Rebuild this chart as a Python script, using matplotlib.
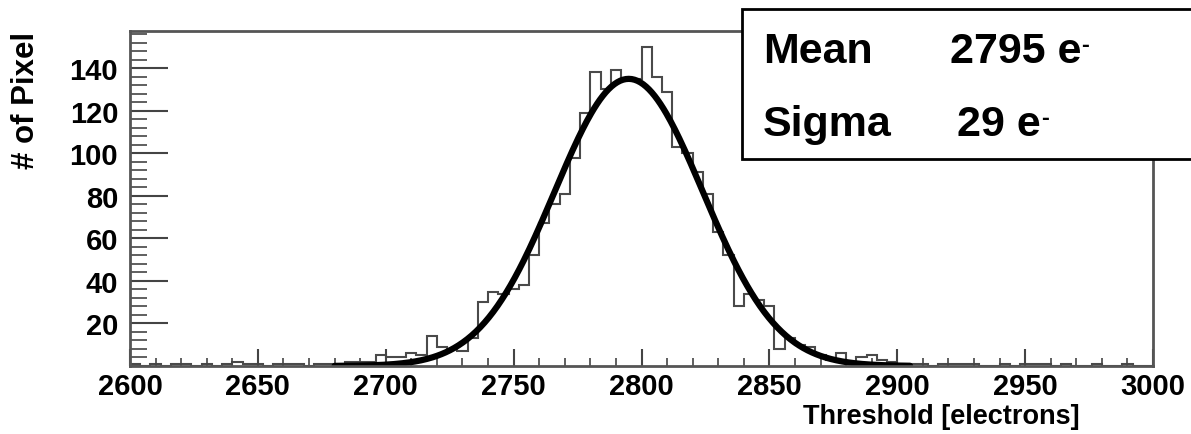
import numpy as np
import matplotlib
matplotlib.use('Agg')
import matplotlib.pyplot as plt
from matplotlib.patches import Rectangle
from matplotlib.ticker import MultipleLocator

# threshold histogram, 4 electron bins from 2600 to 3000
bin_edges = list(range(2600, 3001, 4))
pixel_counts = [
    1, 0, 1, 0, 1, 1, 0, 1, 0, 1,        # 2600 - 2636
    2, 1, 1, 0, 1, 1, 1, 0, 1, 1,        # 2640 - 2676
    1, 2, 2, 2, 5, 4, 4, 6, 5, 14,       # 2680 - 2716
    9, 8, 7, 13, 30, 35, 34, 36, 38, 52,  # 2720 - 2756
    67, 76, 81, 98, 119, 138, 130, 139, 135, 135,  # 2760 - 2796
    150, 136, 129, 103, 100, 91, 81, 63, 52, 28,   # 2800 - 2836
    34, 31, 28, 8, 13, 10, 9, 5, 3, 6,   # 2840 - 2876
    2, 4, 5, 3, 2, 1, 1, 1, 0, 1,        # 2880 - 2916
    1, 1, 1, 0, 0, 1, 0, 1, 1, 1,        # 2920 - 2956
    0, 1, 0, 0, 1, 0, 0, 1, 0, 0,        # 2960 - 2996
]

# gaussian fit
fit_mean = 2795
fit_sigma = 29
fit_amplitude = 135
fit_range = (2680, 2905)

x_ticks = [2600, 2650, 2700, 2750, 2800, 2850, 2900, 2950, 3000]
y_ticks = [20, 40, 60, 80, 100, 120, 140]

W, H = 1191, 435
FONT = 'Liberation Sans'


def fx(px):
    return px / W


def fy(py):
    return 1 - py / H


def gauss(x):
    return fit_amplitude * np.exp(-0.5 * ((x - fit_mean) / fit_sigma) ** 2)


def main():
    plt.rcParams['font.family'] = [FONT, 'DejaVu Sans']
    plt.rcParams['font.weight'] = 'bold'

    fig = plt.figure(figsize=(W / 100, H / 100), dpi=100)
    ax = fig.add_axes([fx(130), fy(367), fx(1153) - fx(130), fy(32) - fy(367)])

    ax.stairs(pixel_counts, bin_edges, color='#4a4a4a', lw=1.5)

    xs = np.linspace(fit_range[0], fit_range[1], 400)
    ax.plot(xs, gauss(xs), color='black', lw=4.5, solid_capstyle='round')

    ax.set_xlim(2600, 3000)
    ax.set_ylim(0, 157.5)
    ax.set_xticks(x_ticks)
    ax.set_yticks(y_ticks)
    ax.xaxis.set_minor_locator(MultipleLocator(10))
    ax.yaxis.set_minor_locator(MultipleLocator(4))

    for sp in ax.spines.values():
        sp.set_color('#555555')
        sp.set_linewidth(2)

    ax.tick_params(axis='x', which='major', direction='in', length=12, width=1.5,
                   color='#444444', pad=4, labelsize=21)
    ax.tick_params(axis='x', which='minor', direction='in', length=6, width=1.2,
                   color='#444444')
    ax.tick_params(axis='y', which='major', direction='in', length=27, width=1.5,
                   color='#444444', pad=8.5, labelsize=21)
    ax.tick_params(axis='y', which='minor', direction='in', length=12, width=1.2,
                   color='#444444')
    for lab in ax.get_xticklabels() + ax.get_yticklabels():
        lab.set_fontweight('bold')

    fig.text(fx(25.5), fy(32), '# of Pixel', rotation=90, ha='center', va='top',
             fontsize=22.5, fontweight='bold')
    fig.text(fx(1080), fy(417), 'Threshold [electrons]', ha='right', va='center',
             fontsize=19.5, fontweight='bold')

    # stats box, runs off the right edge
    box = Rectangle((fx(742), fy(160)), fx(1260) - fx(742), fy(10) - fy(160),
                    transform=fig.transFigure, facecolor='white', edgecolor='black',
                    lw=2, clip_on=False, zorder=5)
    fig.add_artist(box)

    fig.text(fx(763), fy(52), 'Mean', ha='left', va='center', fontsize=31,
             fontweight='bold', zorder=6)
    fig.text(fx(763), fy(125), 'Sigma', ha='left', va='center', fontsize=31,
             fontweight='bold', zorder=6)
    t1 = fig.text(fx(950), fy(52), '2795 e', ha='left', va='center', fontsize=31,
                  fontweight='bold', zorder=6)
    t2 = fig.text(fx(957), fy(125), '29 e', ha='left', va='center', fontsize=31,
                  fontweight='bold', zorder=6)

    fig.canvas.draw()
    r = fig.canvas.get_renderer()
    for t, ytop in ((t1, 34), (t2, 107)):
        bb = t.get_window_extent(r)
        fig.text(bb.x1 / W, fy(ytop), '-', ha='left', va='top',
                 fontsize=17, fontweight='bold', zorder=6)

    fig.savefig('out.png', dpi=100)


if __name__ == "__main__":
    main()
